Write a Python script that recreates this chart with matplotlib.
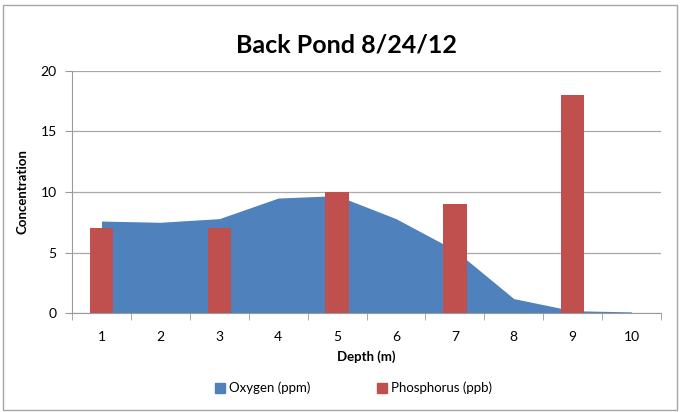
import matplotlib
matplotlib.use("Agg")
import matplotlib.pyplot as plt
from matplotlib.patches import Rectangle, Patch

# depth categories and measured values
depth = [1, 2, 3, 4, 5, 6, 7, 8, 9, 10]
oxygen = [7.6, 7.5, 7.8, 9.5, 9.7, 7.8, 5.2, 1.2, 0.2, 0.1]
phosphorus = [7, 0, 7, 0, 10, 0, 9, 0, 18, 0]

blue = "#4F81BD"
red = "#C0504D"
plt.rcParams["font.family"] = ["Lato", "DejaVu Sans"]

fig = plt.figure(figsize=(6.8, 4.12), dpi=100)
ax = fig.add_axes([0.106, 0.240, 0.866, 0.588])

# light frame round the whole chart like excel
fig.patches.append(Rectangle((0.004, 0.006), 0.992, 0.982, transform=fig.transFigure,
                             fill=False, edgecolor="#A6A6A6", linewidth=1.0))

ax.fill_between(depth, oxygen, 0, color=blue, linewidth=0, zorder=2)
ax.bar(depth, phosphorus, width=0.4, color=red, zorder=3)

ax.set_xlim(0.5, 10.5)
ax.set_ylim(0, 20)
ax.set_yticks([0, 5, 10, 15, 20])
ax.set_xticks(depth)
ax.set_xticks([d + 0.5 for d in [0] + depth], minor=True)
ax.tick_params(axis="x", which="major", length=0, labelsize=10, pad=13)
ax.tick_params(axis="x", which="minor", length=5, color="#9A9A9A")
ax.tick_params(axis="y", length=5, color="#9A9A9A", labelsize=10, pad=6)

ax.grid(axis="y", color="#A8A8A8", linewidth=0.9, zorder=0)
ax.set_axisbelow(True)
for s in ["top", "right"]:
    ax.spines[s].set_visible(False)
ax.spines["left"].set_color("#9A9A9A")
ax.spines["bottom"].set_color("#9A9A9A")

ax.set_xlabel("Depth (m)", fontsize=9.5, fontweight="bold", labelpad=5)
ax.set_ylabel("Concentration", fontsize=9.5, fontweight="bold", labelpad=9)
fig.text(0.51, 0.89, "Back Pond 8/24/12", ha="center", va="center", fontsize=18, fontweight="bold")

handles = [Patch(color=blue, label="Oxygen (ppm)"), Patch(color=red, label="Phosphorus (ppb)")]
fig.legend(handles=handles, loc="center", bbox_to_anchor=(0.52, 0.058), ncol=2, frameon=False,
           fontsize=9.5, handlelength=0.8, handleheight=0.8, handletextpad=0.3, columnspacing=5)

fig.savefig("out.png")
